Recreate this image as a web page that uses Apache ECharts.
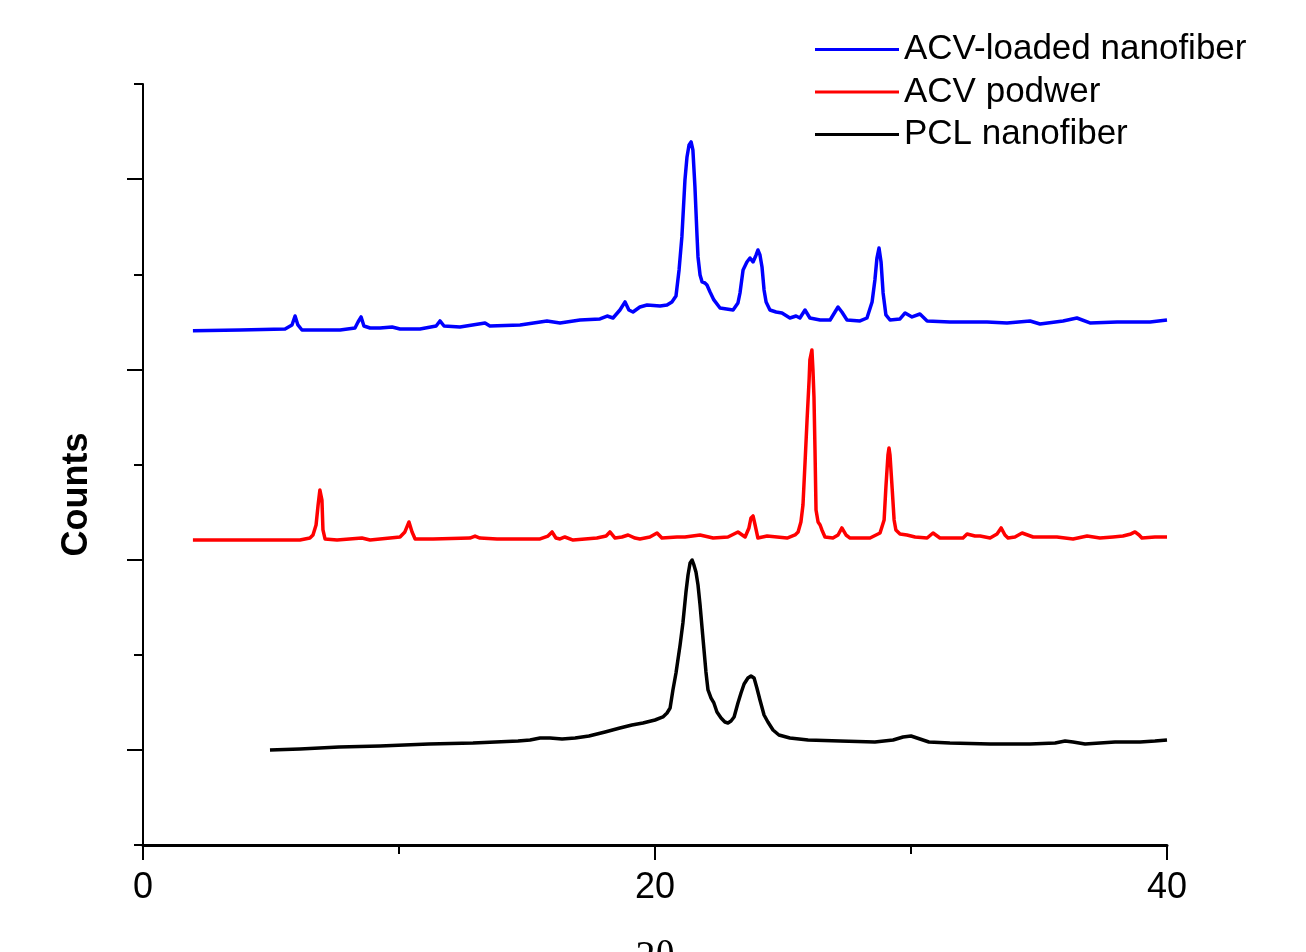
<!DOCTYPE html>
<html>
<head>
<meta charset="utf-8">
<title>XRD patterns</title>
<script src="https://cdn.jsdelivr.net/npm/echarts@6/dist/echarts.min.js"></script>
<style>
  html, body { margin: 0; padding: 0; background: #fff; }
  #chart { width: 1306px; height: 952px; }
</style>
</head>
<body>
<div id="chart"></div>
<script>
// series names (legend order)
const seriesNames = ['ACV-loaded nanofiber', 'ACV podwer', 'PCL nanofiber'];
const seriesColors = ['#0000ff', '#ff0000', '#000000'];

// x tick labels shown on the 2θ axis
const xLabels = [0, 20, 40];

// [2θ, counts] (traces are stacked with offsets)
const acvLoaded = [
  [1.95, 5407], [3.79, 5414], [5.55, 5425], [5.82, 5467], [5.94, 5561], [6.05, 5467], [6.21, 5414],
  [7.70, 5414], [8.28, 5435], [8.40, 5498], [8.52, 5551], [8.63, 5456], [8.87, 5435], [9.26, 5435],
  [9.73, 5446], [10.04, 5425], [10.82, 5425], [11.45, 5456], [11.60, 5509], [11.76, 5456], [12.38, 5446],
  [13.36, 5488], [13.55, 5456], [14.73, 5467], [15.78, 5509], [16.29, 5488], [17.07, 5519], [17.85, 5530],
  [18.13, 5561], [18.36, 5540], [18.63, 5624], [18.83, 5709], [18.98, 5624], [19.14, 5603], [19.41, 5656],
  [19.69, 5677], [20.20, 5667], [20.47, 5677], [20.66, 5709], [20.82, 5772], [20.94, 6045], [21.05, 6392],
  [21.17, 6991], [21.25, 7233], [21.33, 7359], [21.41, 7391], [21.48, 7307], [21.56, 6918], [21.64, 6413],
  [21.68, 6182], [21.76, 5992], [21.84, 5919], [21.95, 5908], [22.03, 5887], [22.15, 5814], [22.30, 5730],
  [22.54, 5645], [23.05, 5624], [23.24, 5698], [23.32, 5803], [23.44, 6045], [23.59, 6129], [23.71, 6171],
  [23.83, 6129], [23.95, 6203], [24.02, 6255], [24.10, 6203], [24.18, 6077], [24.26, 5835], [24.34, 5709],
  [24.49, 5624], [24.73, 5603], [24.96, 5593], [25.27, 5540], [25.51, 5561], [25.66, 5540], [25.86, 5624],
  [26.05, 5540], [26.45, 5519], [26.84, 5519], [27.03, 5603], [27.15, 5656], [27.30, 5603], [27.50, 5519],
  [28.01, 5509], [28.28, 5540], [28.48, 5709], [28.59, 5940], [28.67, 6171], [28.75, 6276], [28.83, 6129],
  [28.91, 5803], [29.02, 5572], [29.18, 5519], [29.57, 5530], [29.77, 5593], [30.04, 5551], [30.35, 5582],
  [30.63, 5509], [31.52, 5498], [32.97, 5498], [33.75, 5488], [34.65, 5509], [35.04, 5477], [35.94, 5509],
  [36.48, 5540], [36.99, 5488], [38.05, 5498], [39.34, 5498], [40.00, 5519]
];

const acvPowder = [
  [1.95, 3206], [6.13, 3206], [6.52, 3227], [6.64, 3259], [6.76, 3364], [6.84, 3574], [6.91, 3732],
  [6.95, 3753], [6.99, 3627], [7.03, 3312], [7.11, 3217], [7.58, 3206], [8.55, 3227], [8.87, 3206],
  [9.26, 3217], [10.04, 3238], [10.23, 3291], [10.39, 3396], [10.51, 3291], [10.63, 3217], [11.33, 3217],
  [12.77, 3227], [12.97, 3248], [13.16, 3227], [13.83, 3217], [15.51, 3217], [15.82, 3248], [15.98, 3291],
  [16.13, 3227], [16.29, 3217], [16.48, 3238], [16.80, 3206], [17.73, 3227], [18.09, 3248], [18.24, 3291],
  [18.44, 3227], [18.71, 3238], [18.95, 3259], [19.22, 3227], [19.41, 3217], [19.80, 3238], [20.08, 3280],
  [20.27, 3227], [20.86, 3238], [21.17, 3238], [21.76, 3259], [22.27, 3227], [22.85, 3238], [23.24, 3291],
  [23.52, 3238], [23.67, 3333], [23.75, 3438], [23.83, 3459], [23.91, 3364], [24.02, 3227], [24.38, 3248],
  [25.16, 3227], [25.47, 3259], [25.59, 3291], [25.70, 3396], [25.78, 3574], [25.86, 4016], [25.94, 4468],
  [26.02, 4889], [26.05, 5099], [26.13, 5204], [26.17, 4994], [26.21, 4710], [26.25, 4153], [26.29, 3522],
  [26.37, 3396], [26.45, 3364], [26.52, 3312], [26.64, 3238], [26.95, 3227], [27.15, 3259], [27.30, 3333],
  [27.46, 3259], [27.62, 3227], [28.40, 3227], [28.79, 3280], [28.95, 3417], [29.02, 3764], [29.10, 4100],
  [29.14, 4174], [29.18, 4100], [29.26, 3764], [29.34, 3417], [29.41, 3312], [29.57, 3270], [29.84, 3259],
  [30.16, 3238], [30.63, 3227], [30.86, 3280], [31.13, 3227], [32.03, 3227], [32.19, 3270], [32.50, 3248],
  [32.70, 3248], [33.09, 3227], [33.36, 3270], [33.52, 3333], [33.67, 3259], [33.79, 3227], [34.06, 3238],
  [34.34, 3280], [34.77, 3238], [35.70, 3238], [36.33, 3217], [36.88, 3248], [37.38, 3227], [37.89, 3238],
  [38.28, 3248], [38.59, 3270], [38.75, 3291], [38.91, 3259], [39.02, 3227], [39.53, 3238], [40.00, 3238]
];

const pclFiber = [
  [4.96, 999], [6.13, 1009], [7.66, 1030], [9.26, 1041], [11.17, 1062], [12.89, 1072], [14.65, 1093],
  [15.12, 1104], [15.51, 1125], [15.90, 1125], [16.37, 1114], [16.88, 1125], [17.42, 1146], [18.05, 1188],
  [18.63, 1230], [19.10, 1262], [19.53, 1283], [20.00, 1314], [20.31, 1346], [20.47, 1388], [20.59, 1440],
  [20.70, 1630], [20.82, 1808], [20.98, 2103], [21.09, 2334], [21.21, 2660], [21.29, 2839], [21.37, 2965],
  [21.45, 2996], [21.52, 2944], [21.60, 2870], [21.68, 2733], [21.76, 2523], [21.88, 2155], [21.99, 1819],
  [22.07, 1630], [22.19, 1545], [22.30, 1493], [22.42, 1398], [22.58, 1335], [22.73, 1293], [22.85, 1283],
  [22.97, 1304], [23.09, 1346], [23.24, 1493], [23.36, 1598], [23.48, 1693], [23.63, 1756], [23.75, 1777],
  [23.87, 1756], [23.98, 1651], [24.10, 1524], [24.26, 1367], [24.41, 1293], [24.61, 1209], [24.84, 1156],
  [25.27, 1125], [25.98, 1104], [27.23, 1093], [28.59, 1083], [29.30, 1104], [29.69, 1135], [30.00, 1146],
  [30.35, 1114], [30.70, 1083], [31.52, 1072], [33.09, 1062], [34.65, 1062], [35.63, 1072], [36.02, 1093],
  [36.33, 1083], [36.80, 1062], [37.38, 1072], [37.97, 1083], [38.95, 1083], [39.53, 1093], [40.00, 1104]
];

const chart = echarts.init(document.getElementById('chart'), null, { renderer: 'canvas' });
const font = '"Liberation Sans", Arial, sans-serif';

const makeLine = (name, data, color) => ({
  name: name,
  type: 'line',
  data: data,
  showSymbol: false,
  symbol: 'none',
  smooth: false,
  lineStyle: { color: color, width: 3.5, join: 'round' },
  itemStyle: { color: color },
  z: 3
});

const option = {
  backgroundColor: '#ffffff',
  animation: false,
  grid: { left: 143, right: 139, top: 84, bottom: 107, containLabel: false, outerBoundsMode: 'none' },
  legend: {
    orient: 'vertical',
    left: 810,
    top: 27,
    icon: 'rect',
    itemWidth: 84,
    itemHeight: 3,
    itemGap: 7.5,
    data: seriesNames,
    textStyle: { fontFamily: font, fontSize: 35, lineHeight: 35, color: '#000' }
  },
  xAxis: [
    {
      type: 'value',
      min: 0,
      max: 40,
      interval: 10,
      position: 'bottom',
      name: '2θ',
      nameLocation: 'middle',
      nameGap: 92,
      nameTextStyle: { fontFamily: '"Liberation Serif", "Times New Roman", serif', fontSize: 40, color: '#000' },
      axisLine: { show: true, lineStyle: { color: '#000', width: 3 } },
      axisTick: { show: true, inside: false, length: 9, lineStyle: { color: '#000', width: 2 } },
      axisLabel: {
        margin: 25,
        fontFamily: font,
        fontSize: 36,
        color: '#000',
        formatter: (v) => (xLabels.includes(v) ? String(v) : '')
      },
      splitLine: { show: false }
    },
    {
      // longer ticks at labelled positions
      type: 'value',
      min: 0,
      max: 40,
      position: 'bottom',
      axisLine: { show: false },
      axisTick: { show: true, length: 15, customValues: xLabels, lineStyle: { color: '#000', width: 2 } },
      axisLabel: { show: false },
      splitLine: { show: false }
    }
  ],
  yAxis: [
    {
      type: 'value',
      min: 0,
      max: 8000,
      interval: 1000,
      position: 'left',
      name: 'Counts',
      nameLocation: 'middle',
      nameRotate: 90,
      nameGap: 48,
      nameTextStyle: { fontFamily: font, fontSize: 36, fontWeight: 'bold', color: '#000', padding: [0, 60, 0, 0] },
      axisLine: { show: true, lineStyle: { color: '#000', width: 2 } },
      axisTick: { show: true, length: 9, lineStyle: { color: '#000', width: 2 } },
      axisLabel: { show: false },
      splitLine: { show: false }
    },
    {
      type: 'value',
      min: 0,
      max: 8000,
      position: 'left',
      axisLine: { show: false },
      axisTick: { show: true, length: 16, customValues: [1000, 3000, 5000, 7000], lineStyle: { color: '#000', width: 2 } },
      axisLabel: { show: false },
      splitLine: { show: false }
    }
  ],
  series: [
    makeLine(seriesNames[0], acvLoaded, seriesColors[0]),
    makeLine(seriesNames[1], acvPowder, seriesColors[1]),
    makeLine(seriesNames[2], pclFiber, seriesColors[2])
  ]
};

chart.setOption(option);
</script>
</body>
</html>
